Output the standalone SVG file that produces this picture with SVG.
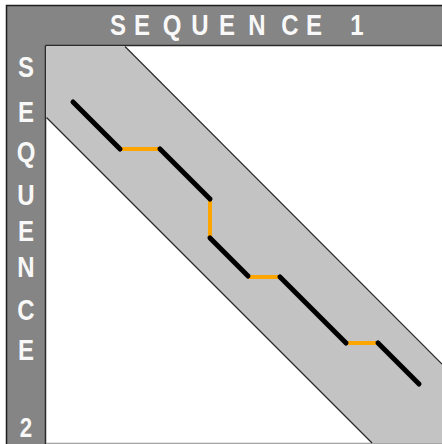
<svg xmlns="http://www.w3.org/2000/svg" width="442" height="444" viewBox="0 0 442 444">
<style>
.lbl{font-family:"Liberation Sans",Arial,sans-serif;font-weight:bold;font-size:30px;fill:#f8f8f8;text-anchor:middle}
.edge{stroke:#2a2a2a;stroke-width:1.2;fill:none}
.blk{stroke:#000;stroke-width:5;stroke-linecap:round;fill:none}
.org{stroke:#ffa500;stroke-width:4;stroke-linecap:butt;fill:none}
</style>
<rect width="442" height="444" fill="#ffffff"/>
<g id="frame">
<rect x="6.5" y="5.5" width="440" height="445" fill="#858585" stroke="#1e1e1e" stroke-width="1.5"/>
<rect x="46" y="46" width="400" height="397" fill="#ffffff"/>
<line x1="45.5" y1="45.5" x2="442" y2="45.5" stroke="#2a2a2a" stroke-width="1.5"/>
<line x1="45.5" y1="45.5" x2="45.5" y2="444" stroke="#2a2a2a" stroke-width="1.5"/>
<line x1="46" y1="443" x2="442" y2="443" stroke="#c8c8c8" stroke-width="1"/>
</g>
<g id="seq1-label">
<text class="lbl" transform="scale(0.8,1)" x="147.5 177.5 215 250 283.75 321.25 362.5 392.5" y="35">SEQUENCE</text>
<text class="lbl" transform="scale(0.8,1)" x="446.25" y="35">1</text>
</g>
<g id="seq2-label" transform="scale(0.8,1)">
<text class="lbl" x="32.5" y="77">S</text>
<text class="lbl" x="32.5" y="122">E</text>
<text class="lbl" x="32.5" y="162">Q</text>
<text class="lbl" x="32.5" y="205">U</text>
<text class="lbl" x="32.5" y="241">E</text>
<text class="lbl" x="32.5" y="277">N</text>
<text class="lbl" x="32.5" y="320">C</text>
<text class="lbl" x="32.5" y="360">E</text>
<text class="lbl" x="32.5" y="437" style="font-size:28px">2</text>
</g>
<g id="band">
<polygon points="46.5,46.5 125,46.5 442,364 442,443 372,443 46.5,117.5" fill="#c3c3c3"/>
<line class="edge" x1="125" y1="46.5" x2="442" y2="364"/>
<line class="edge" x1="46.5" y1="117.5" x2="372" y2="443"/>
</g>
<g id="connectors">
<path class="org" d="M120,149 H160"/>
<path class="org" d="M210,199 V238"/>
<path class="org" d="M248,277 H280"/>
<path class="org" d="M346,343 H378"/>
<path class="blk" d="M73,102 L120,149"/>
<path class="blk" d="M160,149 L210,199"/>
<path class="blk" d="M210,238 L248,276"/>
<path class="blk" d="M280,277 L346,343"/>
<path class="blk" d="M378,343 L419,384"/>
</g>
</svg>
